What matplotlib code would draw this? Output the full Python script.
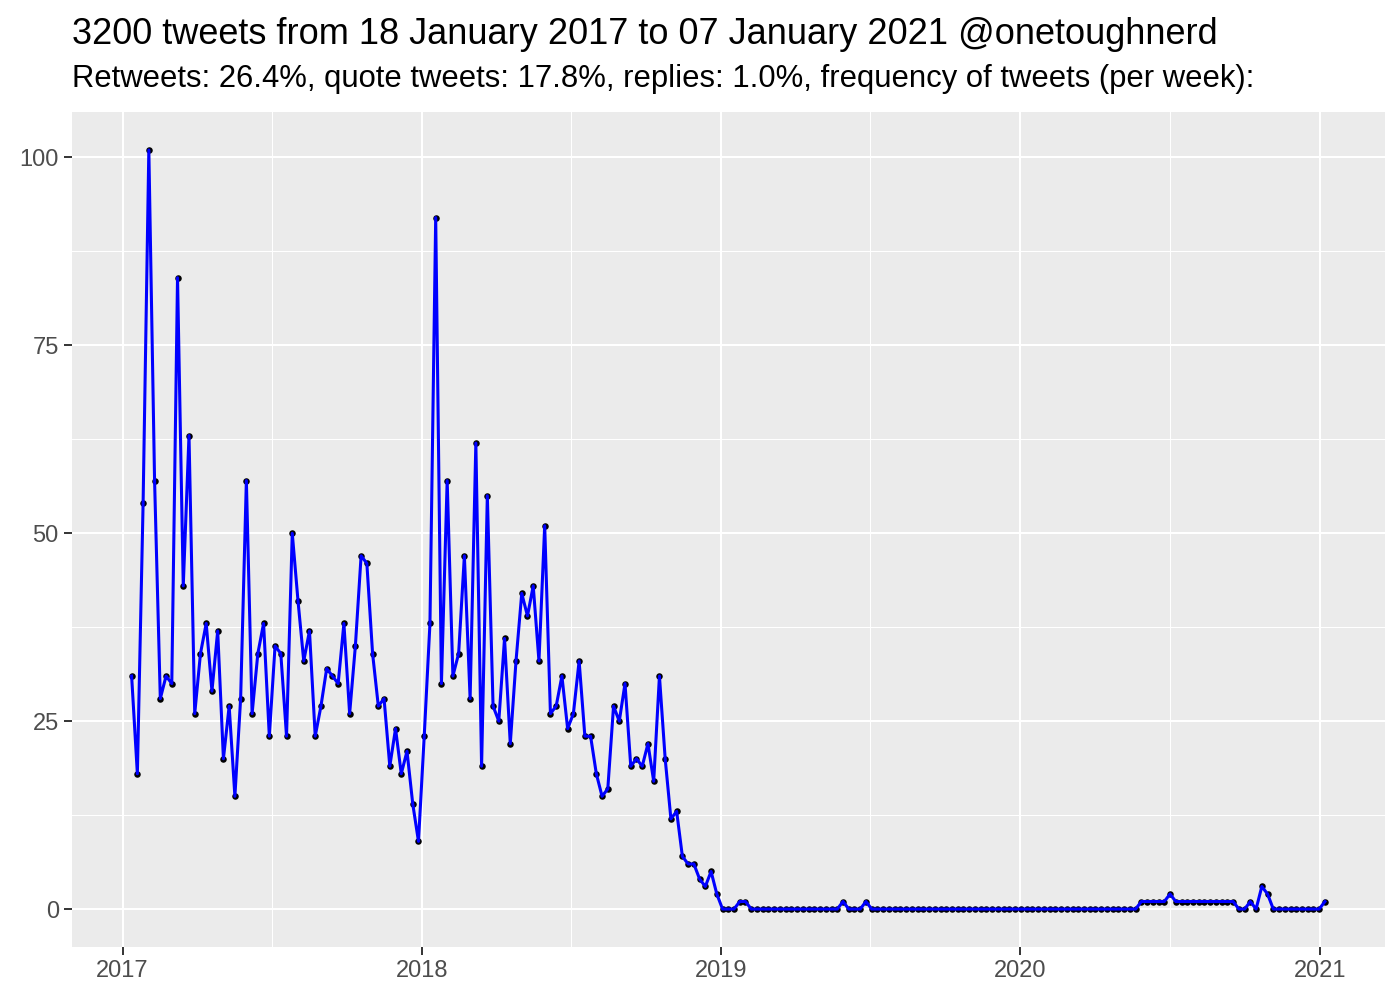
import pandas as pd
import numpy as np
import matplotlib
matplotlib.use('Agg')
import matplotlib.pyplot as plt
import matplotlib.dates as mdates
import matplotlib as mpl

mpl.rcParams['font.family'] = ['Liberation Sans', 'DejaVu Sans']

#--------------data----------------------------------
start_date = '2017-01-12'
tweets_per_week = [
    31, 18, 54, 101, 57, 28, 31, 30, 84, 43, 63, 26, 34, 38, 29, 37, 20, 27, 15, 28,
    57, 26, 34, 38, 23, 35, 34, 23, 50, 41, 33, 37, 23, 27, 32, 31, 30, 38, 26, 35,
    47, 46, 34, 27, 28, 19, 24, 18, 21, 14, 9, 23, 38, 92, 30, 57, 31, 34, 47, 28,
    62, 19, 55, 27, 25, 36, 22, 33, 42, 39, 43, 33, 51, 26, 27, 31, 24, 26, 33, 23,
    23, 18, 15, 16, 27, 25, 30, 19, 20, 19, 22, 17, 31, 20, 12, 13, 7, 6, 6, 4,
    3, 5, 2, 0, 0, 0, 1, 1, 0, 0, 0, 0, 0, 0, 0, 0, 0, 0, 0, 0,
    0, 0, 0, 0, 1, 0, 0, 0, 1, 0, 0, 0, 0, 0, 0, 0, 0, 0, 0, 0,
    0, 0, 0, 0, 0, 0, 0, 0, 0, 0, 0, 0, 0, 0, 0, 0, 0, 0, 0, 0,
    0, 0, 0, 0, 0, 0, 0, 0, 0, 0, 0, 0, 0, 0, 0, 0, 1, 1, 1, 1,
    1, 2, 1, 1, 1, 1, 1, 1, 1, 1, 1, 1, 1, 0, 0, 1, 0, 3, 2, 0,
    0, 0, 0, 0, 0, 0, 0, 0, 1,
]
date = pd.date_range(start_date, periods=len(tweets_per_week), freq='7D')
year_ticks = pd.to_datetime(['2017-01-01', '2018-01-01', '2019-01-01', '2020-01-01', '2021-01-01'])
mid_ticks = pd.to_datetime(['2017-07-02', '2018-07-02', '2019-07-02', '2020-07-02'])
y_ticks = [0, 25, 50, 75, 100]
y_minor = [12.5, 37.5, 62.5, 87.5]

title = '3200 tweets from 18 January 2017 to 07 January 2021 @onetoughnerd'
subtitle = 'Retweets: 26.4%, quote tweets: 17.8%, replies: 1.0%, frequency of tweets (per week):'

#-----------figure----------------------------
fig = plt.figure(figsize=(14, 10), dpi=100)
ax = fig.add_axes([0.0514, 0.053, 0.9376, 0.835])
ax.set_facecolor('#EBEBEB')
for s in ax.spines.values():
    s.set_visible(False)

ax.scatter(date, tweets_per_week, s=22, color='black', zorder=3, linewidths=0)
ax.plot(date, tweets_per_week, color='blue', lw=2.2, zorder=4)

# limits with ggplot-like 5% expansion
x0 = mdates.date2num(date[0]); x1 = mdates.date2num(date[-1])
dx = (x1 - x0) * 0.05
ax.set_xlim(x0 - dx, x1 + dx)
ymax = max(tweets_per_week)
ax.set_ylim(-ymax * 0.05, ymax * 1.05)

ax.set_xticks(year_ticks)
ax.set_xticks(mid_ticks, minor=True)
ax.xaxis.set_major_formatter(mdates.DateFormatter('%Y'))
ax.set_yticks(y_ticks)
ax.set_yticks(y_minor, minor=True)

ax.grid(which='major', color='white', lw=1.5, zorder=0)
ax.grid(which='minor', color='white', lw=0.75, zorder=0)
ax.set_axisbelow(True)
ax.tick_params(which='major', length=5.5, width=1.4, color='#333333',
               labelsize=17, labelcolor='#4D4D4D', pad=4)
ax.tick_params(which='minor', length=0)

fig.text(0.0514, 0.966, title, fontsize=26, va='center', ha='left')
fig.text(0.0514, 0.921, subtitle, fontsize=22.3, va='center', ha='left')

fig.savefig('out.png', dpi=100)
